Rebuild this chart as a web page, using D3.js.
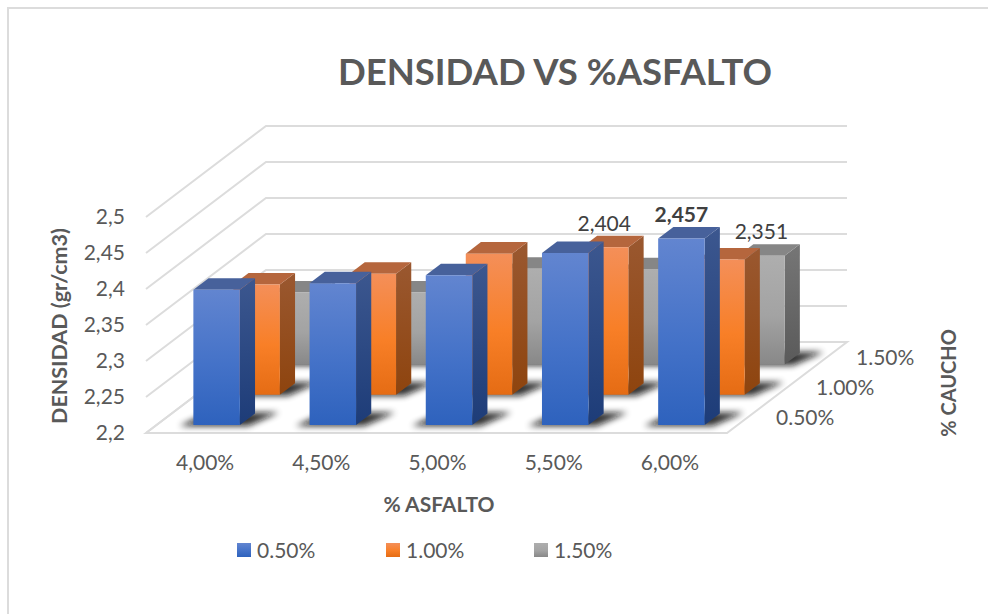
<!DOCTYPE html>
<html><head><meta charset="utf-8">
<script src="https://cdnjs.cloudflare.com/ajax/libs/d3/7.8.5/d3.min.js"></script>
<style>html,body{margin:0;padding:0;background:#fff;overflow:hidden}text{font-family:Lato,"Open Sans",sans-serif;fill:#595959}</style>
</head><body><svg id="c" width="988" height="614"></svg>
<script>
const categories=["4,00%","4,50%","5,00%","5,50%","6,00%"];
const seriesNames=["0.50%","1.00%","1.50%"];
const blueValues=[2.388,2.397,2.408,2.439,2.459];
const orangeValues=[2.353,2.368,2.396,2.405,2.388];
const grayValues=[2.300,2.300,2.333,2.332,2.351];
const valueTicks=[2.2,2.25,2.3,2.35,2.4,2.45,2.5];
const tickLabels=["2,2","2,25","2,3","2,35","2,4","2,45","2,5"];
const dataLabels=[[null,null,null,null,"2,457"],[null,null,null,"2,404",null],[null,null,null,null,"2,351"]];
const allValues=[blueValues,orangeValues,grayValues];
const palette=[
 {a:"#6285d0",m:"#4472c8",b:"#2e62bd",top:"#47619b",s1:"#3c578f",s2:"#1d3c78"},
 {a:"#f48f59",m:"#f87f27",b:"#e56c14",top:"#b5663d",s1:"#9a5830",s2:"#8e440e"},
 {a:"#aeaeae",m:"#a3a3a3",b:"#888888",top:"#868686",s1:"#767676",s2:"#5a5a5a"}];

const svg=d3.select("#c"), defs=svg.append("defs");
palette.forEach((p,i)=>{
 const f=defs.append("linearGradient").attr("id","f"+i).attr("x1",0).attr("x2",0).attr("y1",0).attr("y2",1);
 [[0,p.a],[.55,p.m],[1,p.b]].forEach(s=>f.append("stop").attr("offset",s[0]).attr("stop-color",s[1]));
 const g=defs.append("linearGradient").attr("id","s"+i).attr("x1",0).attr("x2",0).attr("y1",0).attr("y2",1);
 [[0,p.s1],[1,p.s2]].forEach(s=>g.append("stop").attr("offset",s[0]).attr("stop-color",s[1]));
});
defs.append("filter").attr("id","blur").attr("x","-30%").attr("y","-50%").attr("width","160%").attr("height","200%")
 .append("feGaussianBlur").attr("stdDeviation",3);

const X0=146,X1=727,Y0=433,WX=120,WY=91;
const x=d3.scaleBand().domain(categories).range([X0,X1]).paddingInner(.6).paddingOuter(.3).align(.53);
const xLab=d3.scaleBand().domain(categories).range([X0,X1]);
const y=d3.scaleLinear().domain([2.2,2.5]).range([Y0,Y0-216]);
const z=d3.scaleBand().domain(seriesNames).range([0,1]).paddingInner(.62).paddingOuter(.31).align(.42);
const pr=(px,py,d)=>[px+d*WX,py-d*WY];
const poly=pts=>pts.map(p=>p.join(",")).join(" ");
const line="#dcdcdc";

// frame
svg.append("path").attr("d","M988,8H8V614").attr("fill","none").attr("stroke",line).attr("stroke-width",2);

// walls
const grid=svg.append("g").attr("fill","none").attr("stroke",line).attr("stroke-width",2);
valueTicks.forEach(v=>{
 const a=[X0,y(v)],b=pr(X0,y(v),1),c=pr(X1,y(v),1);
 grid.append("polyline").attr("points",poly(v===2.2?[a,b]:[a,b,c]));
});
grid.append("polygon").attr("points",poly([[X0,Y0],[X1,Y0],pr(X1,Y0,1),pr(X0,Y0,1)]));

// bars, back row first
const rows=svg.append("g");
[2,1,0].forEach(si=>{
 const d0=z(seriesNames[si]),d1=d0+z.bandwidth();
 const g=rows.append("g");
 allValues[si].forEach((v,i)=>{
  const cat=categories[i],l=x(cat),r=l+x.bandwidth(),yt=y(v),yb=y(2.2);
  const fbl=pr(l,yb,d0),fbr=pr(r,yb,d0),ftl=pr(l,yt,d0),ftr=pr(r,yt,d0);
  const bbr=pr(r,yb,d1),btr=pr(r,yt,d1),btl=pr(l,yt,d1),bbl=pr(l,yb,d1);
  g.append("polygon").attr("points",poly([[fbl[0]-14,fbl[1]+1],[fbr[0]+8,fbr[1]+1],[bbr[0]+24,bbr[1]-1],[bbl[0],bbl[1]-1]]))
   .attr("fill","#111").attr("opacity",.85).attr("filter","url(#blur)");
  g.append("polygon").attr("points",poly([fbr,bbr,btr,ftr])).attr("fill",`url(#s${si})`);
  g.append("polygon").attr("points",poly([ftl,ftr,btr,btl])).attr("fill",palette[si].top);
  g.append("polygon").attr("points",poly([fbl,fbr,ftr,ftl])).attr("fill",`url(#f${si})`);
 });
});
// data labels drawn above all bars
[2,1,0].forEach(si=>{
 const d0=z(seriesNames[si]),d1=d0+z.bandwidth();
 allValues[si].forEach((v,i)=>{
  const t=dataLabels[si][i]; if(!t) return;
  const p=pr(x(categories[i])+x.bandwidth()/2,y(v),d0), top=pr(0,y(v),d1)[1];
  svg.append("text").attr("x",p[0]-(si===1?1:0)).attr("y",top-5).attr("text-anchor","middle")
   .attr("font-size",21).attr("font-weight",si===0?700:400).style("fill","#404040").text(t);
 });
});

// value axis labels
svg.append("g").selectAll("text").data(valueTicks).join("text")
 .attr("x",125).attr("y",d=>y(d)+7).attr("text-anchor","end").attr("font-size",21)
 .text((d,i)=>tickLabels[i]);
// category axis labels
svg.append("g").selectAll("text").data(categories).join("text")
 .attr("x",d=>xLab(d)+xLab.bandwidth()/2+1).attr("y",470).attr("text-anchor","middle").attr("font-size",21)
 .text(d=>d);
// depth axis labels
seriesNames.forEach(s=>{
 const d=z(s)+z.bandwidth()/2, p=pr(X1,Y0,d);
 svg.append("text").attr("x",p[0]+31).attr("y",p[1]+6).attr("font-size",21).attr("text-anchor","start").text(s);
});

// titles
svg.append("text").attr("x",555).attr("y",85).attr("text-anchor","middle").attr("font-size",36.5).attr("font-weight",700).text("DENSIDAD VS %ASFALTO");
svg.append("text").attr("x",439).attr("y",512).attr("text-anchor","middle").attr("font-size",21).attr("font-weight",700).text("% ASFALTO");
svg.append("text").attr("transform","translate(67,326) rotate(-90)").attr("text-anchor","middle").attr("font-size",21.5).attr("font-weight",700).text("DENSIDAD (gr/cm3)");
svg.append("text").attr("transform","translate(956,383) rotate(-90)").attr("text-anchor","middle").attr("font-size",20).attr("font-weight",700).text("% CAUCHO");

// legend
const legendX=[237,386,534];
seriesNames.forEach((s,i)=>{
 svg.append("rect").attr("x",legendX[i]).attr("y",543).attr("width",14).attr("height",14).attr("fill",`url(#f${i})`);
 svg.append("text").attr("x",legendX[i]+20).attr("y",558).attr("font-size",21).text(s);
});
</script></body></html>
